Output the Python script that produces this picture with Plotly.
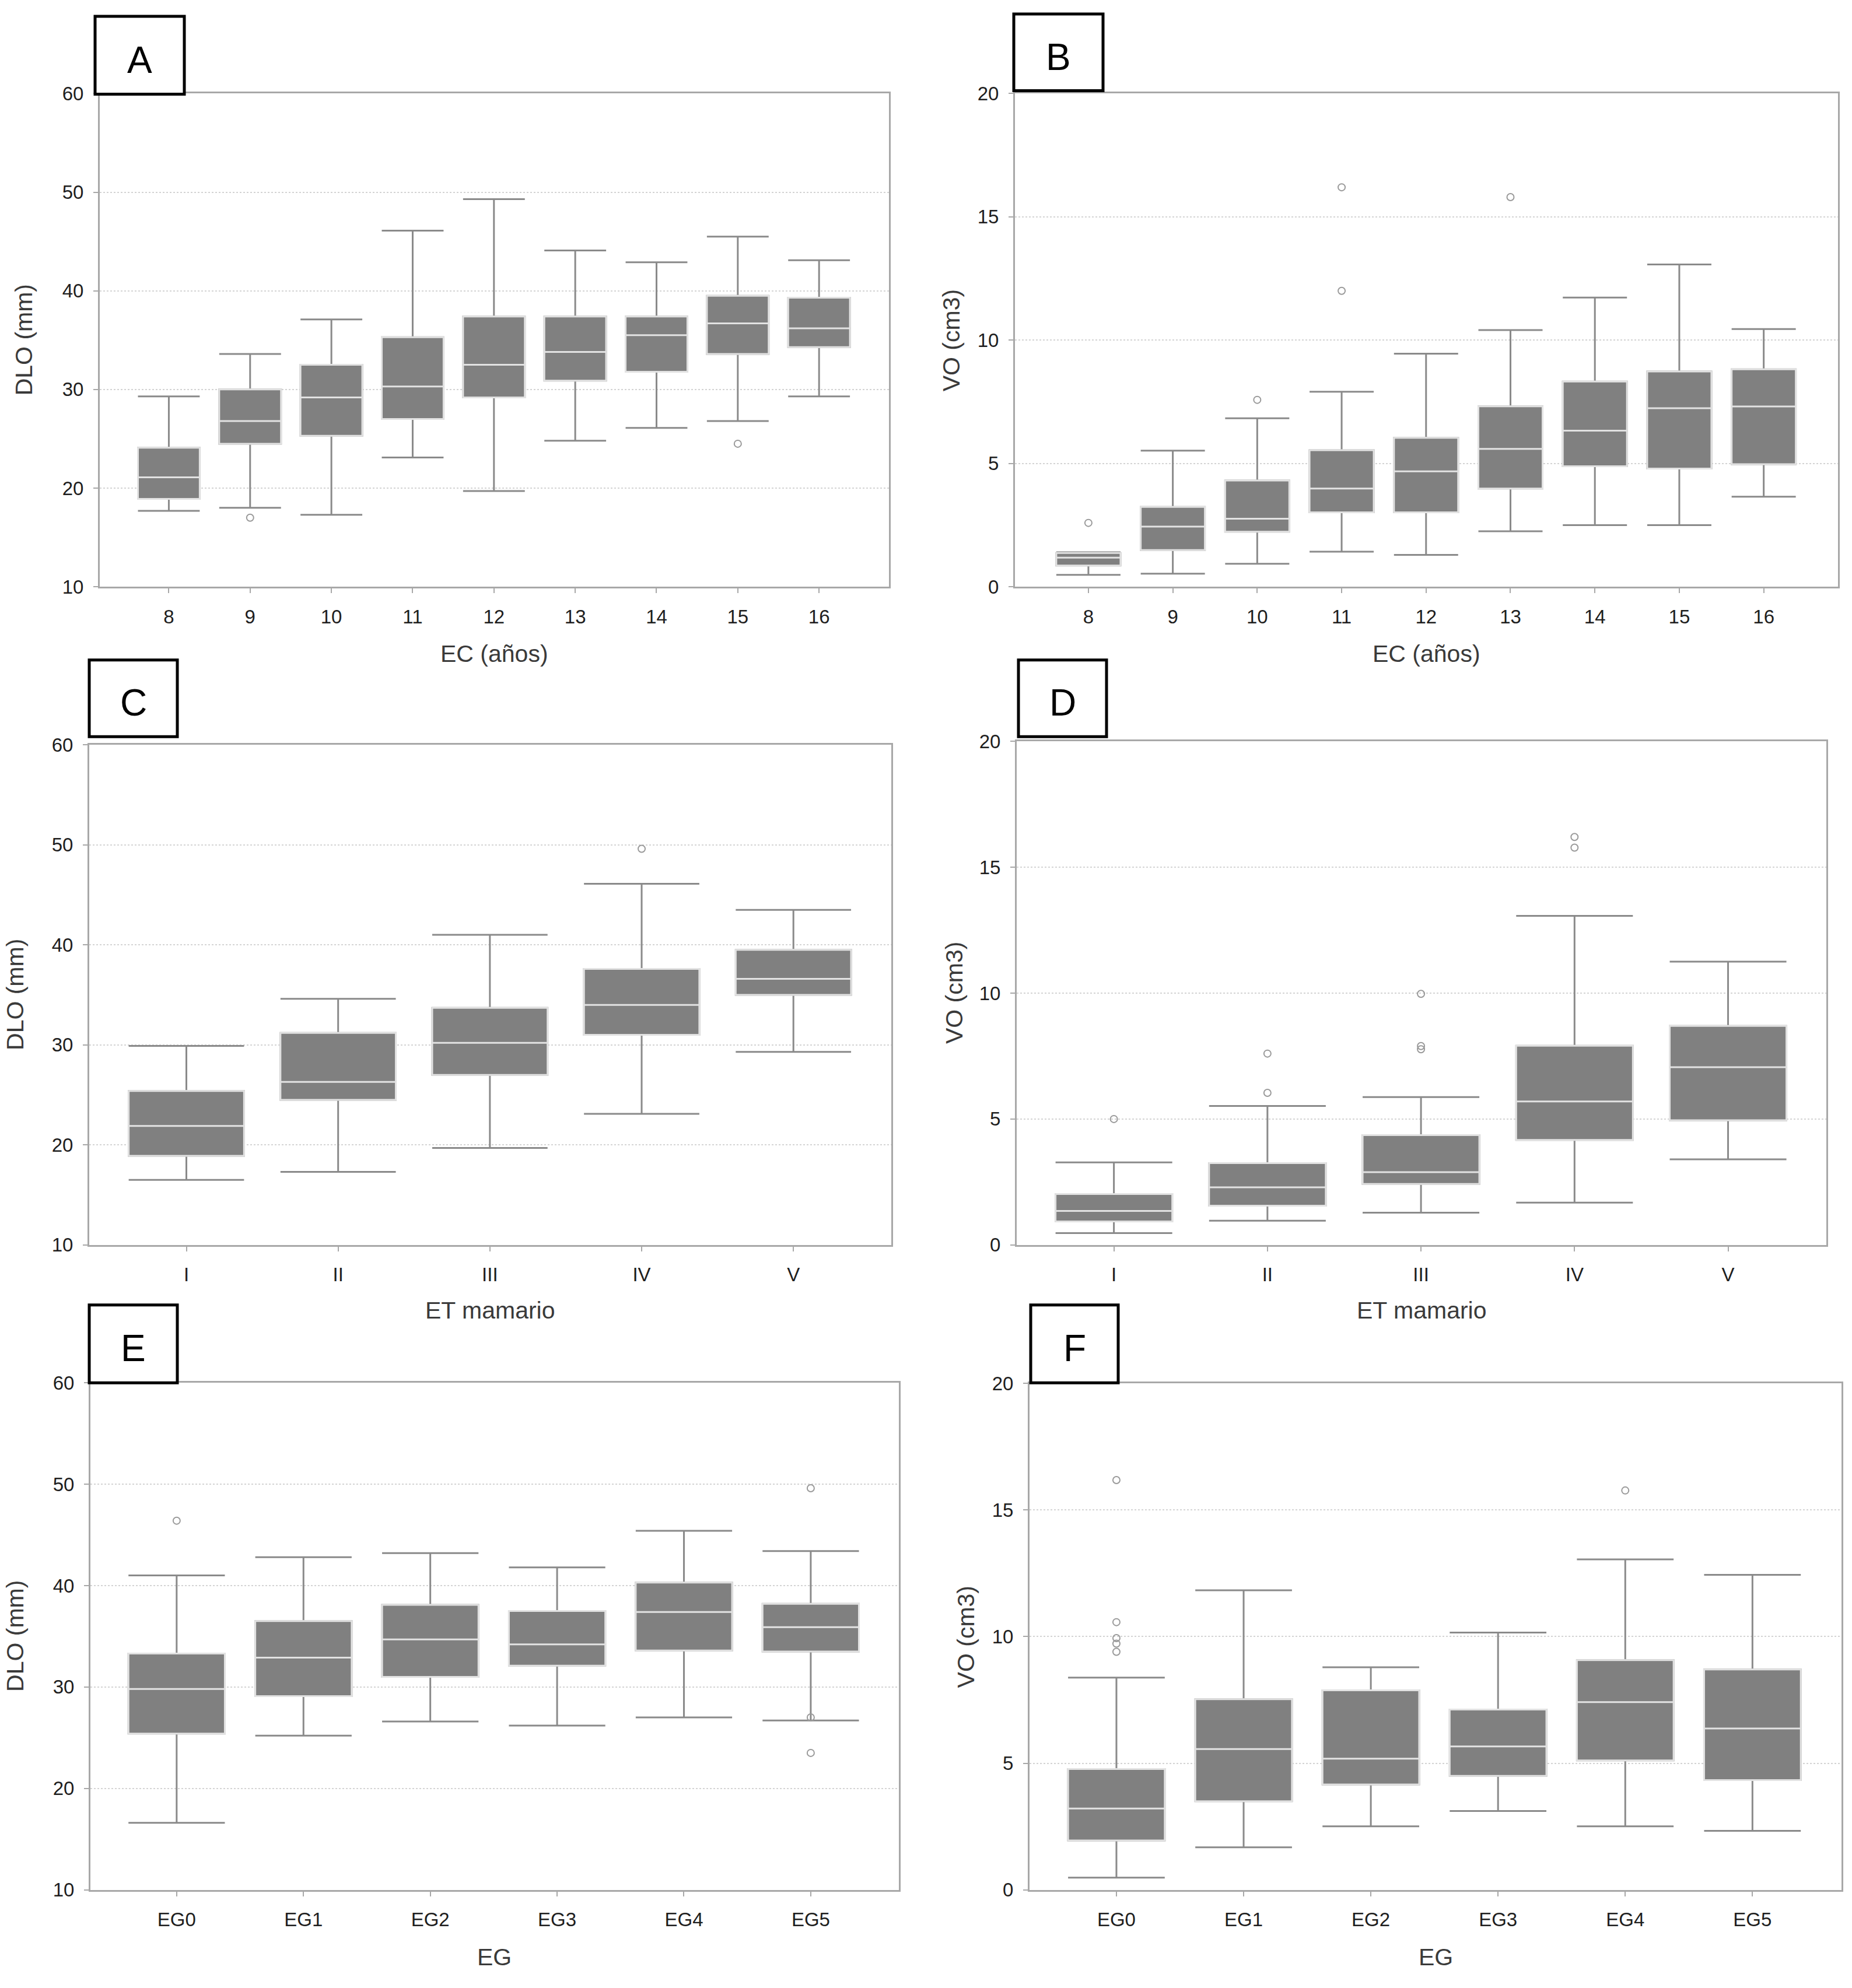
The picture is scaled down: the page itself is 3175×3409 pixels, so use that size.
import plotly.graph_objects as go

# ------------------------------------------------------------
# datos
# ------------------------------------------------------------
EC_CATS = ["8", "9", "10", "11", "12", "13", "14", "15", "16"]
ET_CATS = ["I", "II", "III", "IV", "V"]
EG_CATS = ["EG0", "EG1", "EG2", "EG3", "EG4", "EG5"]

# A: DLO por edad
A_LO = [17.7, 18.0, 17.3, 23.1, 19.7, 24.8, 26.1, 26.8, 29.3]
A_Q1 = [18.9, 24.5, 25.3, 27.0, 29.2, 30.9, 31.8, 33.6, 34.3]
A_MED = [21.1, 26.8, 29.2, 30.3, 32.5, 33.8, 35.5, 36.7, 36.2]
A_Q3 = [24.1, 30.0, 32.5, 35.3, 37.4, 37.4, 37.4, 39.5, 39.3]
A_HI = [29.3, 33.6, 37.1, 46.1, 49.3, 44.1, 42.9, 45.5, 43.1]
A_OUT_X = ["9", "15"]
A_OUT_Y = [17.0, 24.5]

# B: VO por edad
B_LO = [0.48, 0.53, 0.93, 1.42, 1.29, 2.25, 2.50, 2.50, 3.65]
B_Q1 = [0.86, 1.49, 2.23, 3.02, 3.02, 3.98, 4.89, 4.79, 4.97]
B_MED = [1.18, 2.44, 2.76, 3.98, 4.68, 5.59, 6.33, 7.24, 7.31]
B_Q3 = [1.37, 3.24, 4.31, 5.54, 6.04, 7.32, 8.32, 8.73, 8.82]
B_HI = [1.40, 5.52, 6.83, 7.91, 9.45, 10.41, 11.73, 13.07, 10.45]
B_OUT_X = ["8", "10", "11", "11", "13"]
B_OUT_Y = [2.59, 7.58, 16.2, 12.0, 15.8]

# C: DLO por estadio mamario
C_LO = [16.5, 17.3, 19.7, 23.1, 29.3]
C_Q1 = [18.9, 24.5, 27.0, 31.0, 35.0]
C_MED = [21.9, 26.3, 30.2, 34.0, 36.6]
C_Q3 = [25.4, 31.2, 33.7, 37.6, 39.5]
C_HI = [29.9, 34.6, 41.0, 46.1, 43.5]
C_OUT_X = ["IV"]
C_OUT_Y = [49.6]

# D: VO por estadio mamario
D_LO = [0.47, 0.96, 1.28, 1.68, 3.40]
D_Q1 = [0.93, 1.56, 2.42, 4.17, 4.95]
D_MED = [1.35, 2.29, 2.89, 5.70, 7.06]
D_Q3 = [2.02, 3.25, 4.36, 7.91, 8.70]
D_HI = [3.28, 5.52, 5.87, 13.07, 11.25]
D_OUT_X = ["I", "II", "II", "III", "III", "III", "IV", "IV"]
D_OUT_Y = [5.0, 7.6, 6.04, 9.97, 7.9, 7.77, 16.2, 15.78]

# E: DLO por EG
E_LO = [16.6, 25.2, 26.6, 26.2, 27.0, 26.7]
E_Q1 = [25.4, 29.1, 31.0, 32.1, 33.6, 33.5]
E_MED = [29.8, 32.9, 34.7, 34.2, 37.4, 35.9]
E_Q3 = [33.3, 36.5, 38.1, 37.5, 40.3, 38.2]
E_HI = [41.0, 42.8, 43.2, 41.8, 45.4, 43.4]
E_OUT_X = ["EG0", "EG5", "EG5", "EG5"]
E_OUT_Y = [46.4, 49.6, 27.0, 23.5]

# F: VO por EG
F_LO = [0.48, 1.68, 2.51, 3.11, 2.51, 2.33]
F_Q1 = [1.95, 3.50, 4.16, 4.50, 5.11, 4.33]
F_MED = [3.21, 5.56, 5.18, 5.66, 7.41, 6.37]
F_Q3 = [4.77, 7.53, 7.88, 7.12, 9.07, 8.70]
F_HI = [8.38, 11.83, 8.79, 10.16, 13.05, 12.44]
F_OUT_X = ["EG0", "EG0", "EG0", "EG0", "EG0", "EG4"]
F_OUT_Y = [16.18, 10.57, 9.94, 9.72, 9.40, 15.77]

# ------------------------------------------------------------
# estilo / disposición
# ------------------------------------------------------------
W, H = 3175, 3409
FONT = "Liberation Sans, Arial, sans-serif"
BOX_FILL = "#808080"
WHISKER = "#8a8a8a"
MEDIAN = "#e2e2e2"
OUTLIER = "#9a9a9a"
TICK_SIZE = 33


def fx(px):
    return px / W


def fy(px):
    return 1 - px / H


# (letra, cats, lo, q1, med, q3, hi, out_x, out_y, dominio x px, dominio y px,
#  rango y, dtick, titulo x, titulo y, caja etiqueta px, margen categorias,
#  posicion titulos px)
PANELS = [
    ("A", EC_CATS, A_LO, A_Q1, A_MED, A_Q3, A_HI, A_OUT_X, A_OUT_Y,
     (171, 1524), (144, 999), (10, 60), 10, "EC (años)", "DLO (mm)",
     (163, 10, 316, 145), (0.85, 0.86), (41, 1115)),
    ("B", EC_CATS, B_LO, B_Q1, B_MED, B_Q3, B_HI, B_OUT_X, B_OUT_Y,
     (1740, 3151), (144, 999), (0, 20), 5, "EC (años)", "VO (cm3)",
     (1738, 6, 1891, 139), (0.87, 0.88), (1631, 1115)),
    ("C", ET_CATS, C_LO, C_Q1, C_MED, C_Q3, C_HI, C_OUT_X, C_OUT_Y,
     (153, 1528), (1273, 2140), (10, 60), 10, "ET mamario", "DLO (mm)",
     (153, 1126, 304, 1259), (0.64, 0.645), (26, 2253)),
    ("D", ET_CATS, D_LO, D_Q1, D_MED, D_Q3, D_HI, D_OUT_X, D_OUT_Y,
     (1743, 3131), (1267, 2140), (0, 20), 5, "ET mamario", "VO (cm3)",
     (1746, 1126, 1897, 1259), (0.633, 0.64), (1636, 2253)),
    ("E", EG_CATS, E_LO, E_Q1, E_MED, E_Q3, E_HI, E_OUT_X, E_OUT_Y,
     (155, 1541), (2379, 3258), (10, 60), 10, "EG", "DLO (mm)",
     (153, 2244, 304, 2379), (0.68, 0.695), (26, 3375)),
    ("F", EG_CATS, F_LO, F_Q1, F_MED, F_Q3, F_HI, F_OUT_X, F_OUT_Y,
     (1765, 3157), (2380, 3258), (0, 20), 5, "EG", "VO (cm3)",
     (1767, 2244, 1917, 2379), (0.683, 0.70), (1656, 3375)),
]

fig = go.Figure()
layout = {}
annotations = []
shapes = []

for i, p in enumerate(PANELS):
    (letter, cats, lo, q1, med, q3, hi, ox, oy, xd, yd, yr, dt, xt, yt,
     lab, pad, tpos) = p
    n = i + 1
    xa = "x" if n == 1 else f"x{n}"
    ya = "y" if n == 1 else f"y{n}"

    # caja completa con bigotes
    fig.add_trace(go.Box(
        x=cats, q1=q1, median=med, q3=q3, lowerfence=lo, upperfence=hi,
        xaxis=xa, yaxis=ya, width=0.76, whiskerwidth=1, boxpoints=False,
        fillcolor=BOX_FILL, line=dict(color=WHISKER, width=3),
        showlegend=False, hoverinfo="skip",
    ))
    # caja superpuesta para la mediana clara
    fig.add_trace(go.Box(
        x=cats, q1=q1, median=med, q3=q3, lowerfence=q1, upperfence=q3,
        xaxis=xa, yaxis=ya, width=0.76, whiskerwidth=0, boxpoints=False,
        fillcolor=BOX_FILL, line=dict(color=MEDIAN, width=3),
        showlegend=False, hoverinfo="skip",
    ))
    # valores atípicos
    fig.add_trace(go.Scatter(
        x=ox, y=oy, mode="markers", xaxis=xa, yaxis=ya,
        marker=dict(symbol="circle-open", size=12, color=OUTLIER,
                    line=dict(width=2, color=OUTLIER)),
        showlegend=False, hoverinfo="skip",
    ))

    xkey = "xaxis" if n == 1 else f"xaxis{n}"
    ykey = "yaxis" if n == 1 else f"yaxis{n}"
    layout[xkey] = dict(
        domain=[fx(xd[0]), fx(xd[1])], anchor=ya, type="category",
        categoryorder="array", categoryarray=cats,
        range=[-pad[0], len(cats) - 1 + pad[1]],
        showgrid=False, zeroline=False,
        showline=True, mirror=True, linecolor="#a8a8a8", linewidth=3,
        ticks="outside", ticklen=8, tickwidth=2, tickcolor="#a8a8a8",
        ticklabelstandoff=12,
        tickfont=dict(family=FONT, size=TICK_SIZE, color="#1e1e1e"),
    )
    layout[ykey] = dict(
        domain=[fy(yd[1]), fy(yd[0])], anchor=xa,
        range=list(yr), dtick=dt, tick0=0,
        showgrid=True, gridcolor="#d4d4d4", griddash="dot", gridwidth=2,
        zeroline=False,
        showline=True, mirror=True, linecolor="#a8a8a8", linewidth=3,
        ticks="outside", ticklen=8, tickwidth=2, tickcolor="#a8a8a8",
        ticklabelstandoff=10,
        tickfont=dict(family=FONT, size=TICK_SIZE, color="#1e1e1e"),
    )

    # títulos de ejes
    annotations.append(dict(
        text=xt, xref="paper", yref="paper",
        x=fx((xd[0] + xd[1]) / 2), y=fy(tpos[1]),
        xanchor="center", yanchor="middle", showarrow=False,
        font=dict(family=FONT, size=41, color="#3a3a3a"),
    ))
    annotations.append(dict(
        text=yt, xref="paper", yref="paper",
        x=fx(tpos[0]), y=fy((yd[0] + yd[1]) / 2), textangle=-90,
        xanchor="center", yanchor="middle", showarrow=False,
        font=dict(family=FONT, size=41, color="#3a3a3a"),
    ))

    # recuadro con la letra del panel
    shapes.append(dict(
        type="rect", xref="paper", yref="paper",
        x0=fx(lab[0]), x1=fx(lab[2]), y0=fy(lab[3]), y1=fy(lab[1]),
        line=dict(color="black", width=5), fillcolor="white", layer="above",
    ))
    annotations.append(dict(
        text=letter, xref="paper", yref="paper",
        x=fx((lab[0] + lab[2]) / 2), y=fy((lab[1] + lab[3]) / 2 + 8),
        xanchor="center", yanchor="middle", showarrow=False,
        font=dict(family=FONT, size=64, color="black"),
    ))

fig.update_layout(
    width=W, height=H,
    margin=dict(l=0, r=0, t=0, b=0),
    paper_bgcolor="white", plot_bgcolor="white",
    boxmode="overlay",
    annotations=annotations, shapes=shapes,
    font=dict(family=FONT),
    **layout,
)

# sin márgenes de página para que la figura ocupe la ventana exacta
fig.write_html(
    "out.html",
    config={"displayModeBar": False},
    post_script="document.body.style.margin='0';"
                "document.body.style.overflow='hidden';",
)
